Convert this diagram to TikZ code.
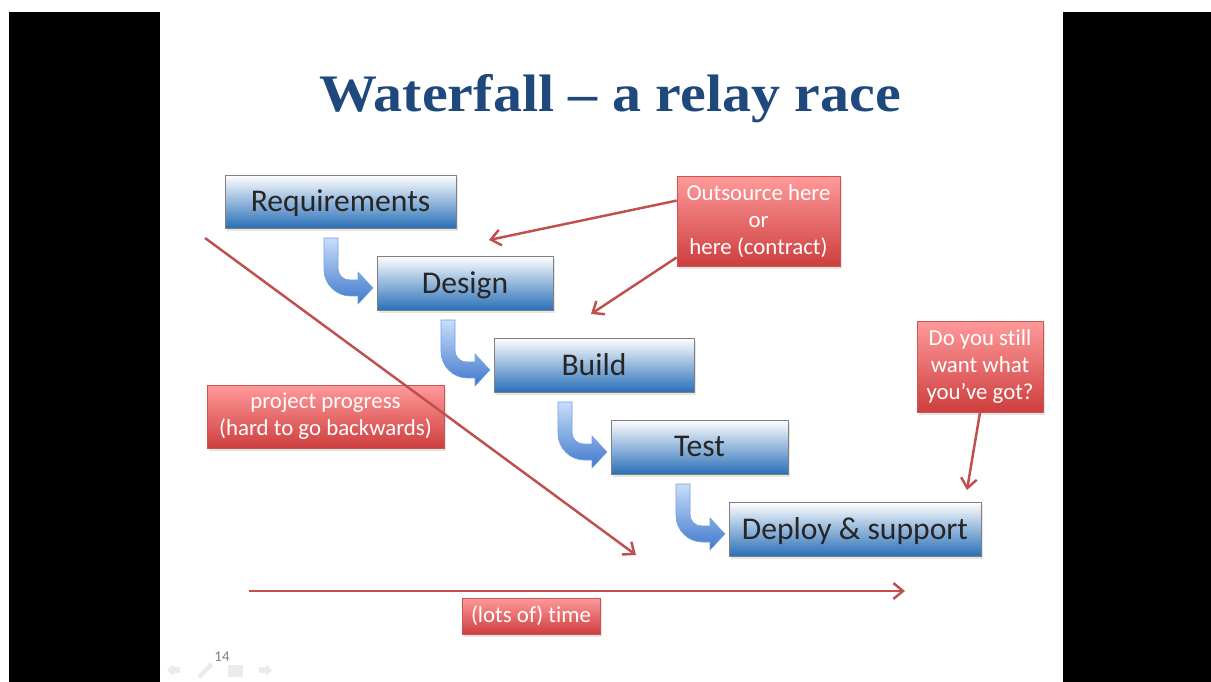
\documentclass[tikz,border=0pt]{standalone}
\usepackage{fontspec}
\setmainfont{Carlito}[Ligatures = NoCommon]
\newfontfamily\titlefont{Liberation Serif}
\usetikzlibrary{arrows.meta, shadows}

\definecolor{titleblue}{RGB}{31,73,125}
\definecolor{stepblue}{RGB}{42,112,184}
\definecolor{stepmid}{RGB}{184,204,228}
\definecolor{noteredtop}{RGB}{255,154,154}
\definecolor{noteredbot}{RGB}{206,62,62}
\definecolor{noteredline}{RGB}{198,86,84}
\definecolor{arrowred}{RGB}{192,80,77}
\definecolor{bendtop}{RGB}{198,222,250}
\definecolor{bendbot}{RGB}{64,120,205}

\tikzset{
	stepbox/.style = {draw = black!50, top color = white, middle color = stepmid,
		bottom color = stepblue, text = black!85, text depth = 0.5pt,
		drop shadow = {opacity = 0.2, shadow xshift = 1pt, shadow yshift = -1.5pt},
		font = \fontsize{18}{21}\selectfont},
	notebox/.style = {draw = noteredline, top color = noteredtop, bottom color = noteredbot,
		text = white, align = center,
		drop shadow = {opacity = 0.2, shadow xshift = 1pt, shadow yshift = -1.5pt},
		font = \fontsize{13}{15.3}\selectfont},
	redarrow/.style = {->, draw = arrowred, line width = 1.4pt},
	navicon/.style = {fill = black!8, draw = none}
}

% bent blue arrow, shaft top left at #1,#2
\newcommand\bentarrow[2]{
	\begin{scope}[shift = {(#1, #2)}]
		\shade [top color = bendtop, bottom color = bendbot, draw = bendbot!70, line width = 0.3pt]
			(0, 0) -- (14, 0) -- (14, 30) .. controls (14, 37) and (19, 42) .. (26, 42)
			-- (34, 42) -- (34, 34) -- (49, 50) -- (34, 66) -- (34, 58) -- (26, 58)
			.. controls (12, 58) and (0, 46) .. (0, 32) -- cycle;
	\end{scope}
}

\begin{document}
\begin{tikzpicture}[x = 0.02cm, y = -0.02cm, > = {Straight Barb[length = 5.5pt, width = 9pt]}]

	% Frame

	\useasboundingbox (0, 0) rectangle (1211, 682);
	\fill [white] (0, 0) rectangle (1211, 682);
	\fill [black] (9, 12) rectangle (160, 682);
	\fill [black] (1063, 12) rectangle (1211, 682);

	% Title

	\node (title) at (610, 99) {\scalebox{1.1}[1]{\titlefont\bfseries\fontsize{30}{34}\selectfont\color{titleblue}Waterfall – a relay race}};

	% Steps

	\node [stepbox, minimum width = 4.62cm, minimum height = 1.06cm] (req) at (340.5, 201.5) {Requirements};
	\node [stepbox, minimum width = 3.52cm, minimum height = 1.08cm] (design) at (465, 283) {Design};
	\node [stepbox, minimum width = 4.00cm, minimum height = 1.08cm] (build) at (594, 365) {Build};
	\node [stepbox, minimum width = 3.54cm, minimum height = 1.08cm] (test) at (699.5, 447) {Test};
	\node [stepbox, minimum width = 5.04cm, minimum height = 1.08cm] (deploy) at (855, 529) {Deploy \& support};

	% Hand-overs

	\bentarrow{324}{238}
	\bentarrow{441}{320}
	\bentarrow{558}{402}
	\bentarrow{676}{484}

	% Notes

	\node [notebox, minimum width = 3.26cm, minimum height = 1.80cm] (outsource) at (758.5, 221) {Outsource here\\or\\here (contract)};
	\node [notebox, minimum width = 2.52cm, minimum height = 1.82cm] (still) at (980, 366.5) {Do you still\\want what\\you’ve got?};
	\node [notebox, minimum width = 4.74cm, minimum height = 1.26cm] (progress) at (325.5, 416.5) {project progress\\(hard to go backwards)};
	\node [notebox, minimum width = 2.76cm, minimum height = 0.72cm] (time) at (531, 616) {(lots of) time};

	% Red arrows

	\coordinate (here1) at (489, 240);
	\coordinate (here2) at (591, 314);
	\coordinate (now) at (967, 490);
	\coordinate (progstart) at (205, 238);
	\coordinate (progend) at (636, 555);
	\coordinate (timestart) at (249, 591);
	\coordinate (timeend) at (905, 591);

	\draw [redarrow] (outsource.166) -- (here1);
	\draw [redarrow] (outsource.204) -- (here2);
	\draw [redarrow] (still.south) -- (now);
	\draw [redarrow] (progstart) -- (progend);
	\draw [redarrow] (timestart) -- (timeend);

	% Slide footer

	\node [text = black!50, font = \fontsize{8.5}{10}\selectfont] (page) at (222, 657) {14};
	\fill [navicon] (167, 670) -- (173, 664) -- (173, 667) -- (180, 667) -- (180, 673) -- (173, 673) -- (173, 676) -- cycle;
	\draw [black!8, line width = 2.5pt] (199, 677) -- (212, 664);
	\fill [navicon] (228, 665) rectangle (243, 677);
	\fill [navicon] (272, 670) -- (266, 664) -- (266, 667) -- (259, 667) -- (259, 673) -- (266, 673) -- (266, 676) -- cycle;

\end{tikzpicture}
\end{document}
